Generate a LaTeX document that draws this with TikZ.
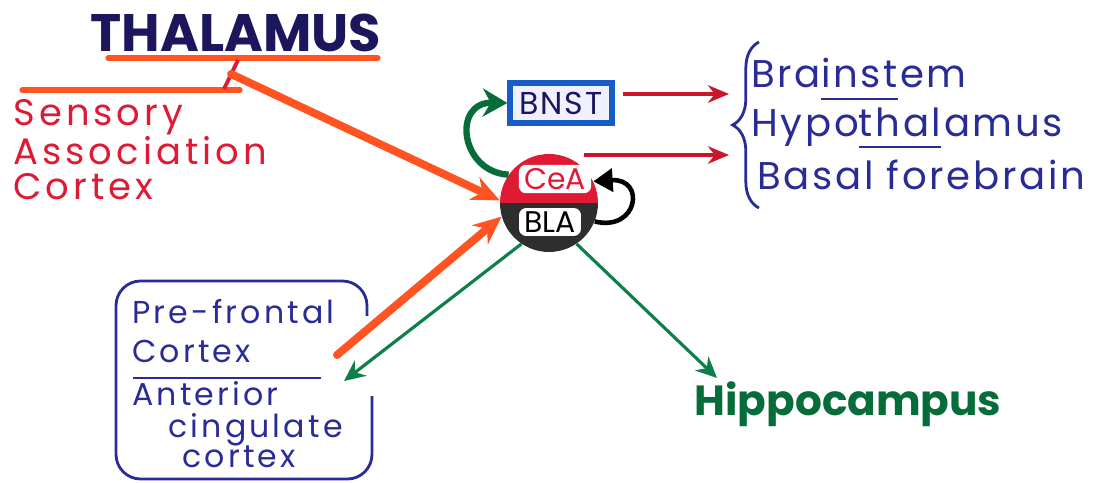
\documentclass[tikz,border=0pt]{standalone}
\usepackage{fontspec}
\setmainfont{Poppins}
\usetikzlibrary{arrows.meta,decorations.pathreplacing}
\definecolor{navy}{RGB}{28,22,92}
\definecolor{pen red}{RGB}{222,26,52}
\definecolor{pen orange}{RGB}{255,84,34}
\definecolor{pen blue}{RGB}{42,44,150}
\definecolor{pen green}{RGB}{12,128,72}
\definecolor{deep green}{RGB}{6,108,58}
\definecolor{arrow red}{RGB}{200,22,42}
\definecolor{bnst blue}{RGB}{24,92,200}
\newcommand{\penul}[1]{\setbox0\hbox{#1}\rlap{\rule[-7pt]{\wd0}{1.1pt}}#1}
\begin{document}
\begin{tikzpicture}[x=0.02cm, y=-0.02cm, every node/.style={inner sep=0pt}, title/.style={font=\fontsize{30}{30}\selectfont\bfseries, text=navy}, sensory/.style={font=\fontsize{21}{20}\selectfont\addfontfeature{LetterSpace=11}, text=pen red, align=left, anchor=north west}, target/.style={font=\fontsize{22}{22}\selectfont\addfontfeature{LetterSpace=7}, text=pen blue, anchor=base west}, pfc/.style={font=\fontsize{18}{18}\selectfont\addfontfeature{LetterSpace=10}, text=pen blue, anchor=base west}, orangeline/.style={pen orange, line width=3pt, line cap=round}, orangearrow/.style={pen orange, line width=4.5pt, line cap=round, -{Stealth[length=16pt, width=14pt]}}, redarrow/.style={arrow red, line width=1.8pt, -{Stealth[length=12pt, width=10pt]}}, greenarrow/.style={pen green, line width=1.8pt, -{Stealth[length=12pt, width=11pt]}}, penlabel/.style={fill=white, rounded corners=4pt, inner xsep=3pt, inner ysep=2pt, font=\fontsize{17}{17}\selectfont}]
		\useasboundingbox (0,0) rectangle (1096,483);
		\node[title] (thal) at (236,33) {THALAMUS};
		\draw[orangeline] (108,58) -- (378,58);
		\draw[orangeline] (22,90) -- (240,90);
		\coordinate (t1) at (238,60);
		\coordinate (t2) at (224,89);
		\draw[pen red, line width=2.2pt] (t1) -- (t2);
		\coordinate (tm) at (231,74);
		\node[sensory] (sac) at (13,99) {Sensory\\Association\\Cortex};
		\node[circle, minimum size=1.96cm, path picture={\fill[pen red] (path picture bounding box.north west) rectangle (path picture bounding box.east); \fill[black!82] (path picture bounding box.west) rectangle (path picture bounding box.south east);}] (amyg) at (549,203) {};
		\node[penlabel, text=pen red] (cea) at (555,179) {CeA};
		\node[penlabel, text=black] (bla) at (550,222) {BLA};
		\node[draw=bnst blue, line width=3pt, fill=blue!6, minimum width=2.04cm, minimum height=0.8cm, font=\fontsize{18}{18}\selectfont\addfontfeature{LetterSpace=6}, text=navy] (bnst) at (561,103) {BNST};
		\draw[deep green, line width=3.6pt, -{Stealth[length=14pt, width=16pt]}] (amyg.145) .. controls (460,172) and (452,102) .. (bnst.west);
		\draw[black, line width=2.6pt, -{Triangle[length=11pt, width=13pt]}] (amyg.-22) .. controls (638,232) and (646,178) .. (amyg.26);
		\coordinate (b1) at (729,94);
		\coordinate (b2) at (729,155);
		\draw[redarrow] ([xshift=5pt]bnst.east |- b1) -- (b1);
		\draw[redarrow] (amyg.45 |- b2) -- (b2);
		\draw[pen blue, line width=1.6pt, decorate, decoration={brace, amplitude=15pt}] (759,208) -- (759,42);
		\node[target] (brs) at (751,88) {Bra\penul{inst}em};
		\node[target] (hyp) at (751,136) {Hypo\penul{thal}amus};
		\node[target] (baf) at (757,190) {Basal forebrain};
		\draw[orangearrow] (tm) -- (amyg.177);
		\coordinate (p1) at (337,355);
		\draw[orangearrow] (p1) -- (amyg.196);
		\coordinate (p2) at (344,381);
		\draw[greenarrow] (amyg.236) -- (p2);
		\coordinate (h1) at (717,378);
		\draw[greenarrow] (amyg.-56) -- (h1);
		\node[font=\fontsize{24}{24}\selectfont\bfseries, text=deep green] (hip) at (848,404) {Hippocampus};
		\draw[pen blue, line width=1.6pt, rounded corners=14pt] (367,316) -- (367,281) -- (116,281) -- (116,479) -- (372,479) -- (372,396);
		\node[pfc] (pf1) at (132,323) {Pre-frontal};
		\node[pfc] (pf2) at (132,362) {Cortex};
		\draw[pen blue, line width=1.6pt] (133,378) -- (321,378);
		\node[pfc] (ac1) at (132,405) {Anterior};
		\node[pfc] (ac2) at (168,437) {cingulate};
		\node[pfc] (ac3) at (182,467) {cortex};
	\end{tikzpicture}
\end{document}
